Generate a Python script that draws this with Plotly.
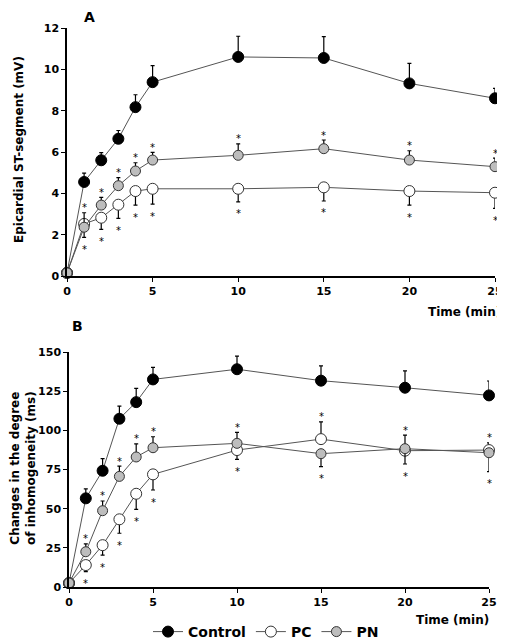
import plotly.graph_objects as go

# ---- data ----
time_min = [0, 1, 2, 3, 4, 5, 10, 15, 20, 25]

# Panel A: Epicardial ST-segment (mV)
a_control = [0.15, 4.55, 5.6, 6.64, 8.17, 9.38, 10.6, 10.55, 9.32, 8.6]
a_control_up = [0, 0.43, 0.37, 0.4, 0.6, 0.8, 1.0, 1.03, 0.97, 0.48]
a_pc = [0.15, 2.52, 2.82, 3.45, 4.11, 4.22, 4.22, 4.29, 4.11, 4.03]
a_pc_up = [0, 0, 0, 0, 0, 0, 0, 0, 0, 0]
a_pc_down = [0, 0.65, 0.56, 0.66, 0.68, 0.74, 0.63, 0.66, 0.68, 0.76]
a_pn = [0.15, 2.36, 3.43, 4.37, 5.08, 5.61, 5.84, 6.16, 5.61, 5.29]
a_pn_up = [0, 0.7, 0.37, 0.39, 0.4, 0.37, 0.55, 0.42, 0.45, 0.41]
a_pn_down = [0, 0, 0, 0, 0, 0, 0, 0, 0, 0]
a_pc_sig = [0, 1, 1, 1, 1, 1, 1, 1, 1, 1]
a_pn_sig = [0, 1, 1, 1, 1, 1, 1, 1, 1, 1]

# Panel B: Changes in the degree of inhomogeneity (ms)
b_control = [2.5, 56.6, 74.2, 107.4, 118, 132.5, 139, 131.7, 127.2, 122.3]
b_control_up = [0, 6, 7.7, 8, 8.8, 7.7, 8.4, 9.5, 10.8, 9.2]
b_pc = [2.5, 14, 26.7, 43.2, 59.5, 71.9, 87.4, 94.4, 87, 87.4]
b_pc_up = [0, 0, 0, 0, 0, 0, 0, 11, 10, 4.6]
b_pc_down = [0, 4.2, 6.4, 8.9, 9.9, 10, 6, 0, 0, 0]
b_pn = [2.5, 22.5, 48.7, 70.6, 83, 88.9, 91.7, 85.1, 88.3, 85.7]
b_pn_up = [0, 5, 6.2, 6.6, 8.3, 7, 7, 0, 0, 0]
b_pn_down = [0, 0, 0, 0, 0, 0, 0, 8.3, 9.8, 12]
b_pc_sig = [0, 1, 1, 1, 1, 1, 1, 1, 1, 1]
b_pn_sig = [0, 1, 1, 1, 1, 1, 1, 1, 1, 1]

a_yticks = [0, 2, 4, 6, 8, 10, 12]
b_yticks = [0, 25, 50, 75, 100, 125, 150]
x_ticks = [0, 5, 10, 15, 20, 25]

FONT = "DejaVu Sans, Liberation Sans, Arial, sans-serif"
LINE = "#555555"

# the page body has an 8px margin: the figure starts at (8, 8) and fills to the window edge
OFF = 8
W, H = 505 - OFF, 644 - OFF


def PX(px):
    return (px - OFF) / W


def PY(py):
    return 1 - (py - OFF) / H


fig = go.Figure()

styles = {
    "Control": dict(color="black", line=dict(color="black", width=1), size=11, symbol="circle"),
    "PC": dict(color="white", line=dict(color="#333333", width=1), size=11, symbol="circle"),
    "PN": dict(color="#bdbdbd", line=dict(color="#333333", width=1), size=10, symbol="circle"),
}


def add_series(name, y, up, down, xa, ya, legend):
    fig.add_trace(go.Scatter(
        x=time_min, y=y, name=name, mode="lines+markers",
        xaxis=xa, yaxis=ya, showlegend=legend, cliponaxis=False,
        line=dict(color=LINE, width=1),
        marker=styles[name],
        error_y=dict(type="data", symmetric=False, array=up, arrayminus=down,
                     color="black", thickness=1.2, width=2),
    ))


add_series("Control", a_control, a_control_up, [0] * 10, "x", "y", True)
add_series("PC", a_pc, a_pc_up, a_pc_down, "x", "y", True)
add_series("PN", a_pn, a_pn_up, a_pn_down, "x", "y", True)
add_series("Control", b_control, b_control_up, [0] * 10, "x2", "y2", False)
add_series("PC", b_pc, b_pc_up, b_pc_down, "x2", "y2", False)
add_series("PN", b_pn, b_pn_up, b_pn_down, "x2", "y2", False)

annotations = []


def stars(y, up, down, sig, xr, yr):
    for t, v, u, d, s in zip(time_min, y, up, down, sig):
        if not s:
            continue
        if u > 0:
            annotations.append(dict(x=t, y=v + u, xref=xr, yref=yr, text="*", showarrow=False,
                                    xanchor="center", yanchor="middle",
                                    yshift=5, font=dict(size=10, color="black", family=FONT)))
        else:
            annotations.append(dict(x=t, y=v - d, xref=xr, yref=yr, text="*", showarrow=False,
                                    xanchor="center", yanchor="middle",
                                    yshift=-12, font=dict(size=10, color="black", family=FONT)))


stars(a_pc, a_pc_up, a_pc_down, a_pc_sig, "x", "y")
stars(a_pn, a_pn_up, a_pn_down, a_pn_sig, "x", "y")
stars(b_pc, b_pc_up, b_pc_down, b_pc_sig, "x2", "y2")
stars(b_pn, b_pn_up, b_pn_down, b_pn_sig, "x2", "y2")

bold = dict(family=FONT, size=12, color="black", weight="bold")
big = dict(family=FONT, size=14, color="black", weight="bold")


def label(px, py, text, font, angle=0, xanchor="center"):
    annotations.append(dict(x=PX(px), y=PY(py), xref="paper", yref="paper", text=text,
                            textangle=angle, showarrow=False, xanchor=xanchor,
                            yanchor="middle", font=font))


label(89, 17, "A", big)
label(77, 326, "B", big)
label(19, 150, "Epicardial ST-segment (mV)", bold, angle=-90)
label(23, 468, "Changes in the degree<br>of inhomogeneity (ms)", bold, angle=-90)
label(503, 312, "Time (min)", bold, xanchor="right")
label(491, 620, "Time (min)", bold, xanchor="right")

axis_common = dict(showgrid=False, zeroline=False, showline=True, linecolor="black", linewidth=1.5,
                   ticks="outside", ticklen=4, tickwidth=1.2, tickcolor="black",
                   tickfont=dict(family=FONT, size=11, color="black", weight="bold"))

fig.update_layout(
    width=W, height=H, paper_bgcolor="white", plot_bgcolor="white",
    margin=dict(l=0, r=0, t=0, b=0, autoexpand=False),
    xaxis=dict(domain=[PX(67), PX(495)], range=[0, 25], anchor="y",
               tickvals=x_ticks, **axis_common),
    yaxis=dict(domain=[PY(276), PY(28)], range=[0, 12], anchor="x",
               tickvals=a_yticks, **axis_common),
    xaxis2=dict(domain=[PX(69), PX(489)], range=[0, 25], anchor="y2",
                tickvals=x_ticks, **axis_common),
    yaxis2=dict(domain=[PY(587), PY(352)], range=[0, 150], anchor="x2",
                tickvals=b_yticks, **axis_common),
    legend=dict(orientation="h", x=PX(148), y=PY(632), xanchor="left", yanchor="middle",
                font=dict(family=FONT, size=14, color="black", weight="bold"),
                itemwidth=30, tracegroupgap=0, bgcolor="rgba(0,0,0,0)"),
    annotations=annotations,
    showlegend=True,
)

fig.write_html("out.html")
